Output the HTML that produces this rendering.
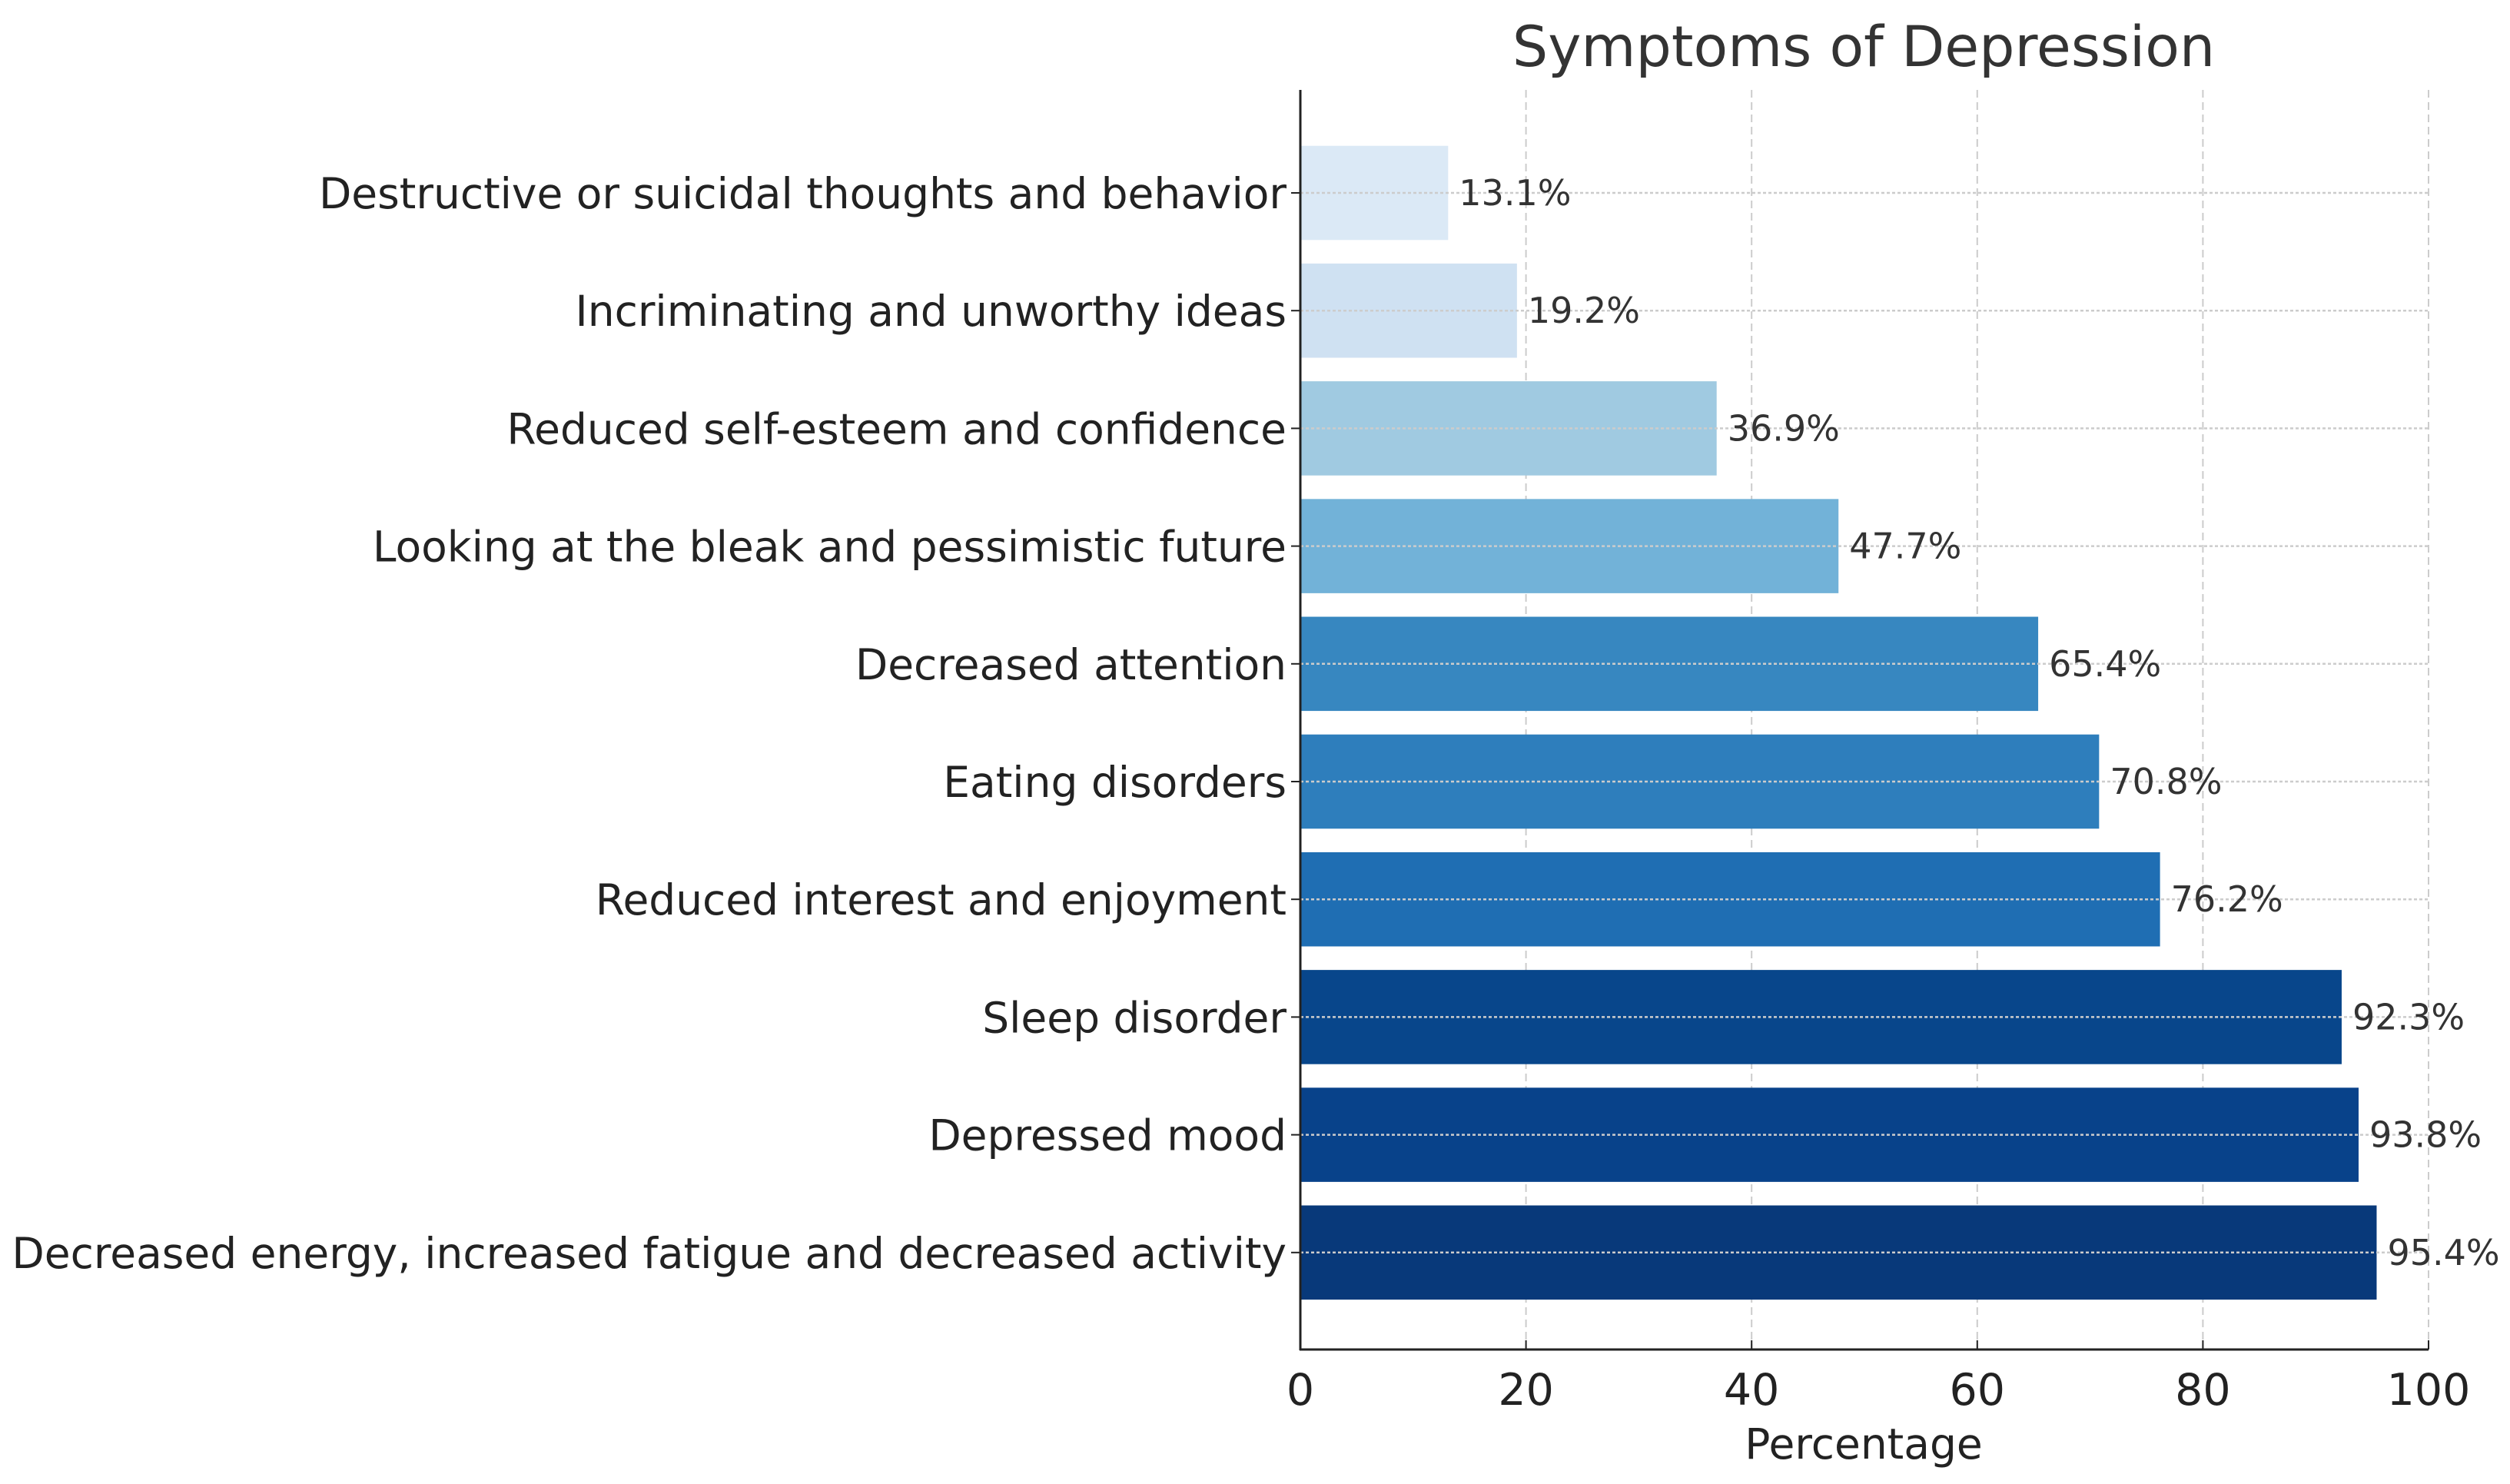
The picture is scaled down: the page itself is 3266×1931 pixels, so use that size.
<!DOCTYPE html>
<html><head><meta charset="utf-8"><style>
html,body{margin:0;padding:0;background:#fff;}
svg{display:block;font-family:"DejaVu Sans","Liberation Sans",sans-serif;}
</style></head><body>
<svg id="chart" width="3266" height="1931" viewBox="0 0 3266 1931" xmlns="http://www.w3.org/2000/svg">
<rect width="3266" height="1931" fill="#fff"/>
<text x="2425" y="86" font-size="73" fill="#333" text-anchor="middle">Symptoms of Depression</text>
<g id="grid"></g><g id="bars"></g><g id="labels"></g><g id="axes"></g>
<text x="2425" y="1898" font-size="55" fill="#222" text-anchor="middle">Percentage</text>
</svg>
<script>
const categories = ["Destructive or suicidal thoughts and behavior","Incriminating and unworthy ideas","Reduced self-esteem and confidence","Looking at the bleak and pessimistic future","Decreased attention","Eating disorders","Reduced interest and enjoyment","Sleep disorder","Depressed mood","Decreased energy, increased fatigue and decreased activity"];
const values = [13.1,19.2,36.9,47.7,65.4,70.8,76.2,92.3,93.8,95.4];
const colors = ["#dbe9f6","#cfe1f2","#a0cae1","#72b2d8","#3787c0","#2e7ebc","#1f6eb3","#08468b","#08428a","#08397a"];
const xTicks = [0,20,40,60,80,100];

const NS="http://www.w3.org/2000/svg";
const X0=1692,X1=3160,xmax=100;
const x=v=>X0+(v/xmax)*(X1-X0);
const Y0=251,STEP=153.2;
const y=i=>Y0+i*STEP;
const BH=STEP*0.8;
function mk(tag,attrs,parent){const e=document.createElementNS(NS,tag);for(const k in attrs)e.setAttribute(k,attrs[k]);parent.appendChild(e);return e;}
const grid=document.getElementById('grid'),bars=document.getElementById('bars'),labels=document.getElementById('labels'),axes=document.getElementById('axes');
const TOP=117,BOT=1756;
xTicks.forEach(t=>{
  const l=mk('line',{x1:x(t),x2:x(t),y1:TOP,y2:BOT,stroke:'#ccc','stroke-width':2,'stroke-dasharray':'10,6'},grid);
  
  
  const tk=mk('line',{x1:x(t),x2:x(t),y1:BOT,y2:BOT-12,stroke:'#222','stroke-width':2},axes);
  
  
  const tl=mk('text',{x:x(t),y:BOT+72,'font-size':57,fill:'#222','text-anchor':'middle'},axes);
  tl.textContent=t;
  
  
});
categories.forEach((c,i)=>{
  const cy=y(i);
  const r=mk('rect',{x:X0,y:cy-BH/2,width:x(values[i])-X0,height:BH,fill:colors[i]},bars);
  
  
  const g=mk('line',{x1:X0,x2:X1,y1:cy,y2:cy,stroke:'#ccc','stroke-width':2.5,'stroke-dasharray':'4,3'},labels);
  
  
  const tk=mk('line',{x1:X0-12,x2:X0,y1:cy,y2:cy,stroke:'#222','stroke-width':2},axes);
  
  
  const cl=mk('text',{x:X0-18,y:cy+20,'font-size':55,fill:'#222','text-anchor':'end'},labels);
  cl.textContent=c;
  
  
  const vl=mk('text',{x:x(values[i])+14,y:cy+16,'font-size':46,fill:'#333'},labels);
  vl.textContent=values[i].toFixed(1)+'%';
  
  
});
const ls=mk('line',{x1:X0,x2:X0,y1:TOP,y2:BOT+1,stroke:'#222','stroke-width':3},axes);


const bs=mk('line',{x1:X0-1,x2:X1,y1:BOT,y2:BOT,stroke:'#222','stroke-width':3},axes);


</script>
</body></html>
